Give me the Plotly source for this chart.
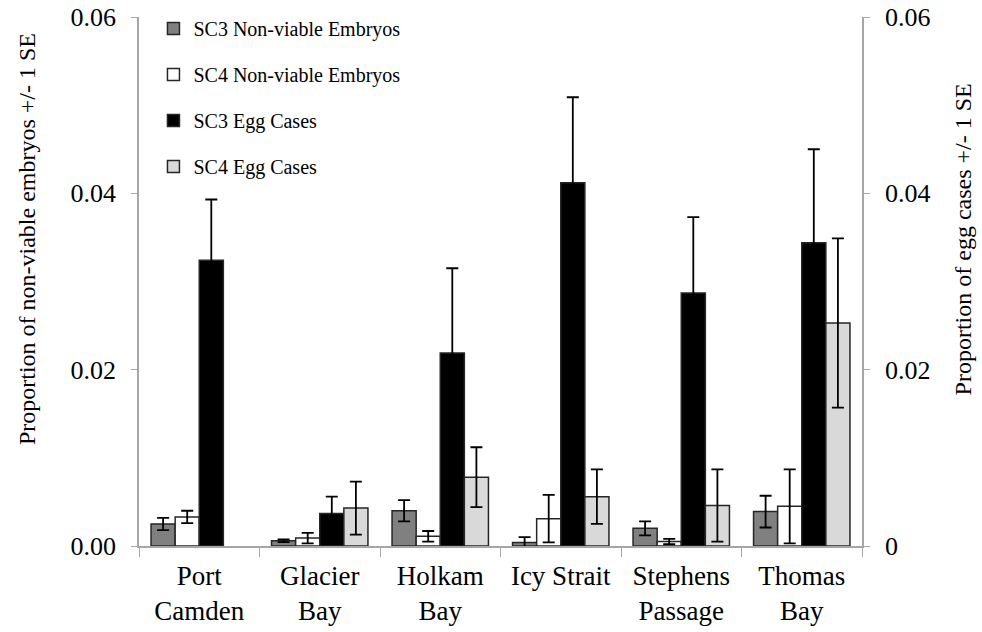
import plotly.graph_objects as go

# Sites (two-line tick labels)
sites = ["Port<br>Camden", "Glacier<br>Bay", "Holkam<br>Bay", "Icy Strait",
         "Stephens<br>Passage", "Thomas<br>Bay"]

# Proportion of non-viable embryos (left axis) and SE
sc3_nve = [0.0025, 0.0006, 0.0040, 0.0004, 0.0020, 0.0039]
sc3_nve_se = [0.0007, 0.00015, 0.0012, 0.0006, 0.0008, 0.0018]
sc4_nve = [0.0033, 0.0009, 0.0011, 0.0031, 0.0005, 0.0045]
sc4_nve_se = [0.0007, 0.0006, 0.0006, 0.0027, 0.0003, 0.0042]

# Proportion of egg cases (right axis) and SE; no SC4 egg cases at Port Camden
sc3_egg = [0.0324, 0.0037, 0.0219, 0.0412, 0.0287, 0.0344]
sc3_egg_se = [0.0069, 0.0019, 0.0096, 0.0097, 0.0086, 0.0106]
sc4_egg = [None, 0.0043, 0.0078, 0.0056, 0.0046, 0.0253]
sc4_egg_se = [None, 0.0030, 0.0034, 0.0031, 0.0041, 0.0096]

FONT = "Liberation Serif, Times New Roman, serif"
edge = dict(color="#262626", width=1.5)

series = [
    ("SC3 Non-viable Embryos", sc3_nve, sc3_nve_se, "#808080", "y", -0.4),
    ("SC4 Non-viable Embryos", sc4_nve, sc4_nve_se, "#ffffff", "y", -0.2),
    ("SC3 Egg Cases", sc3_egg, sc3_egg_se, "#000000", "y2", 0.0),
    ("SC4 Egg Cases", sc4_egg, sc4_egg_se, "#d9d9d9", "y2", 0.2),
]

fig = go.Figure()
for name, vals, se, color, yax, off in series:
    fig.add_trace(go.Bar(
        name=name, x=sites, y=vals, yaxis=yax,
        width=0.2, offset=off,
        marker=dict(color=color, line=edge),
        error_y=dict(type="data", array=se, visible=True,
                     color="#000000", thickness=1.8, width=6),
        legendgroup=name,
    ))

axis_line = "#a6a6a6"
fig.update_layout(
    width=982, height=632,
    margin=dict(l=139, r=120, t=17, b=86, autoexpand=False),
    paper_bgcolor="white", plot_bgcolor="white",
    font=dict(family=FONT, color="#000000"),
    showlegend=True,
    legend=dict(x=0.02, y=1.015, xanchor="left", yanchor="top",
                font=dict(family=FONT, size=20),
                tracegroupgap=17, itemwidth=30,
                bgcolor="rgba(0,0,0,0)"),
    xaxis=dict(categoryorder="array", categoryarray=sites,
               showline=True, linecolor=axis_line, linewidth=1.5,
               ticks="outside", tickson="boundaries", ticklen=9,
               tickcolor=axis_line, tickfont=dict(family=FONT, size=27),
               ticklabelstandoff=5, automargin=False,
               showgrid=False, zeroline=False),
    yaxis=dict(range=[0, 0.06], tickvals=[0, 0.02, 0.04, 0.06],
               ticktext=["0.00", "0.02", "0.04", "0.06"],
               showline=True, linecolor=axis_line, linewidth=1.5,
               ticks="outside", ticklen=6, tickcolor=axis_line,
               tickfont=dict(family=FONT, size=26), ticklabelstandoff=10,
               automargin=False, showgrid=False, zeroline=False),
    yaxis2=dict(range=[0, 0.06], tickvals=[0, 0.02, 0.04, 0.06],
                ticktext=["0", "0.02", "0.04", "0.06"],
                overlaying="y", side="right",
                showline=True, linecolor=axis_line, linewidth=1.5,
                ticks="outside", ticklen=6, tickcolor=axis_line,
                tickfont=dict(family=FONT, size=26), ticklabelstandoff=10,
                automargin=False, showgrid=False, zeroline=False),
    annotations=[
        dict(text="Proportion of non-viable embryos +/- 1 SE",
             xref="paper", yref="paper", x=-0.155, y=0.58,
             xanchor="center", yanchor="middle", textangle=-90,
             showarrow=False, font=dict(family=FONT, size=24)),
        dict(text="Proportion of egg cases +/- 1 SE",
             xref="paper", yref="paper", x=1.14, y=0.58,
             xanchor="center", yanchor="middle", textangle=-90,
             showarrow=False, font=dict(family=FONT, size=24)),
    ],
)

fig.write_html("out.html")
